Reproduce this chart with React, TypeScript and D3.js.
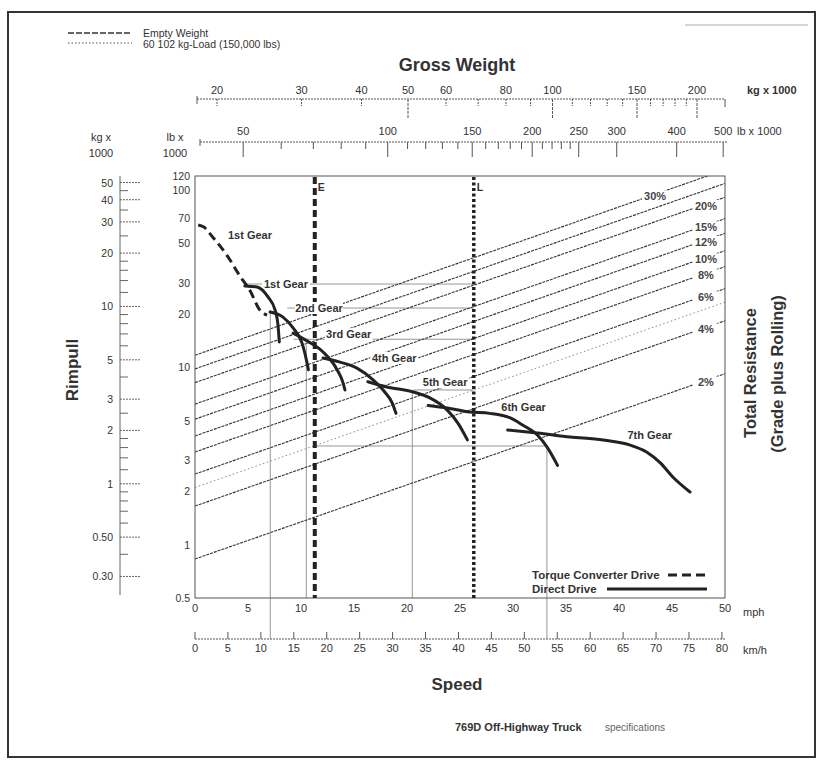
import * as d3 from "d3";

const W = 821;
const H = 763;
const FONT = "'Liberation Sans', Arial, Helvetica, sans-serif";

// speed axes
const mphTicks = [0, 5, 10, 15, 20, 25, 30, 35, 40, 45, 50];
const kmhTicks = [0, 5, 10, 15, 20, 25, 30, 35, 40, 45, 50, 55, 60, 65, 70, 75, 80];

// rimpull axes (x 1000)
const rimpullLbTicks = [120, 100, 70, 50, 30, 20, 10, 5, 3, 2, 1, 0.5];
const rimpullKgLabels = ["50", "40", "30", "20", "10", "5", "3", "2", "1", "0.50", "0.30"];
const rimpullKgMinor = [45, 35, 25, 18, 16, 14, 12, 9, 8, 7, 6, 4, 2.5, 1.8, 1.6, 1.4, 1.2, 0.9, 0.8, 0.7, 0.6, 0.4];

// gross weight axes (x 1000)
const grossKgLabels = [20, 30, 40, 50, 60, 80, 100, 150, 200];
const grossKgTicks = [20, 30, 40, 50, 60, 70, 80, 90, 100, 110, 120, 130, 140, 150, 160, 170, 180, 190, 200];
const grossKgLong = [50, 100, 150, 200];
const grossLbLabels = [50, 100, 150, 200, 250, 300, 400, 500];
const grossLbTicks = [50, 60, 70, 80, 90, 100, 110, 120, 130, 140, 150, 160, 170, 180, 190, 200, 210, 220, 230, 240, 250, 300, 400, 500];

// total resistance lines: rimpull (lb x 1000) at 0 mph and at 50 mph
const gradeLabels = ["30%", "", "20%", "15%", "12%", "10%", "8%", "6%", "", "4%", "2%"];
const gradeAt0 = [11.7, 9.8, 8.2, 6.2, 5.1, 4.1, 3.33, 2.5, 2.1, 1.65, 0.83];
const gradeAt50 = [130, 109, 91, 69, 57, 45.5, 37, 27.8, 23.3, 18.3, 9.2];
const gradeDotted = [false, false, false, false, false, false, false, false, true, false, false];

// rimpull curves: [mph, lb x 1000]
const gear1TC = [[0.3, 63.5], [0.8, 62], [1.7, 54], [3.0, 43], [4.2, 33], [5.2, 27], [6.1, 21.1], [6.8, 19.7]];
const gear1 = [[4.7, 28.8], [5.85, 28.4], [6.9, 24.9], [7.55, 21.1], [7.83, 17.3], [7.95, 13.9]];
const gear2 = [[7.08, 20.5], [8.3, 19.2], [9.25, 16.7], [10.1, 13.7], [10.57, 10.6], [10.7, 9.7]];
const gear3 = [[9.25, 15.6], [10.57, 14.1], [12.08, 12.2], [13.4, 9.7], [13.96, 8.2], [14.15, 7.45]];
const gear4 = [[12.08, 11.3], [13.68, 10.7], [15.28, 9.9], [16.8, 8.5], [17.9, 7.26], [18.6, 6.3], [18.96, 5.5]];
const gear5 = [[16.3, 8.3], [18.1, 7.75], [20.6, 7.26], [22.2, 6.7], [23.8, 5.74], [24.8, 4.85], [25.7, 3.9]];
const gear6 = [[22.0, 6.1], [23.8, 5.9], [25.9, 5.6], [27.8, 5.5], [29.7, 5.2], [30.9, 4.73], [32.3, 4.15], [33.2, 3.56], [34.2, 2.8]];
const gear7 = [[29.5, 4.43], [32.3, 4.26], [35.4, 4.05], [38.5, 3.89], [41.0, 3.65], [42.6, 3.33], [43.9, 2.89], [45.1, 2.4], [46.7, 1.98]];

// gear labels: text, mph, rimpull
const gearLabelText = ["1st Gear", "1st Gear", "2nd Gear", "3rd Gear", "4th Gear", "5th Gear", "6th Gear", "7th Gear"];
const gearLabelMph = [5.19, 8.58, 11.7, 14.5, 18.8, 23.6, 31.0, 42.9];
const gearLabelRim = [55.8, 29.5, 21.6, 15.4, 11.3, 8.26, 5.97, 4.15];

// example reading lines
const readRowRim = [29.5, 21.6, 14.4, 7.45, 3.6];
const readRowFrom = [4.7, 8.7, 9.3, 20.6, 11.3];
const readRowTo = [26.3, 26.3, 26.3, 26.3, 33.2];
const readColMph = [7.1, 10.5, 20.5, 33.2];
const readColTop = [21.1, 13.4, 7.45, 3.6];
const readColToKmh = [true, false, false, true];

const emptyMph = 11.3;
const loadedMph = 26.3;

export default function App() {
  const x = d3.scaleLinear().domain([0, 50]).range([195, 725]);
  const xKmh = d3.scaleLinear().domain([0, 50 * 1.609344]).range([195, 725]);
  const y = d3.scaleLog().domain([0.5, 120]).range([598, 176]);
  const yKg = (kg: number) => y(kg * 2.20462);
  const gw = d3.scaleLog().domain([20, 200]).range([217, 697]);
  const gwLb = (lb: number) => gw(lb / 2.20462);

  const curve = d3
    .line<number[]>()
    .x((d) => x(d[0]))
    .y((d) => y(d[1]))
    .curve(d3.curveMonotoneX);
  const straight = d3
    .line<number[]>()
    .x((d) => x(d[0]))
    .y((d) => y(d[1]));

  const gears = [gear1, gear2, gear3, gear4, gear5, gear6, gear7];
  const ink = "#222";
  const thin = "#8a8a8a";

  return (
    <svg
      width={W}
      height={H}
      style={{ position: "absolute", left: 0, top: 0, background: "#fff" }}
      fontFamily={FONT}
    >
      <defs>
        <clipPath id="plotClip">
          <rect x={195} y={176} width={530} height={422} />
        </clipPath>
      </defs>

      {/* page frame */}
      <rect x={8} y={12} width={807} height={745} fill="none" stroke="#333" strokeWidth={2} />
      <line x1={685} x2={808} y1={25} y2={25} stroke="#aaa" strokeWidth={1} />

      {/* top-left legend */}
      <line x1={68} x2={132} y1={33} y2={33} stroke="#333" strokeWidth={1.5} strokeDasharray="6,2" />
      <text x={143} y={33} fontSize={10.5} fill="#333" dominantBaseline="central">Empty Weight</text>
      <line x1={68} x2={132} y1={43} y2={43} stroke="#555" strokeWidth={1.2} strokeDasharray="1.5,2" />
      <text x={143} y={44} fontSize={10.5} fill="#333" dominantBaseline="central">60 102 kg-Load (150,000 lbs)</text>

      {/* gross weight */}
      <text x={457} y={65} fontSize={18} fontWeight="bold" fill="#333" textAnchor="middle" dominantBaseline="central">
        Gross Weight
      </text>
      <line x1={197} x2={725} y1={99} y2={99} stroke="#555" strokeWidth={1} strokeDasharray="2,1" />
      <line x1={197} x2={197} y1={96} y2={104} stroke="#555" />
      <line x1={725} x2={725} y1={99} y2={107} stroke="#555" />
      {grossKgTicks.map((t) => (
        <line key={"gk" + t} x1={gw(t)} x2={gw(t)} y1={99} y2={grossKgLong.includes(t) ? 118 : 106}
          stroke="#555" strokeWidth={1} strokeDasharray={grossKgLong.includes(t) ? "3,1" : "2,1"} />
      ))}
      {grossKgLabels.map((t) => (
        <text key={"gkl" + t} x={gw(t)} y={90} fontSize={11} fill="#333" textAnchor="middle" dominantBaseline="central">
          {t}
        </text>
      ))}
      <text x={747} y={90} fontSize={11} fontWeight="bold" fill="#333" dominantBaseline="central">kg x 1000</text>

      <line x1={200} x2={727} y1={142} y2={142} stroke="#555" strokeWidth={1} strokeDasharray="2,1" />
      <line x1={200} x2={200} y1={139} y2={146} stroke="#555" />
      {grossLbTicks.map((t) => (
        <line key={"gl" + t} x1={gwLb(t)} x2={gwLb(t)} y1={142} y2={grossLbLabels.includes(t) ? 157 : 149}
          stroke="#555" strokeWidth={1} />
      ))}
      {grossLbLabels.map((t) => (
        <text key={"gll" + t} x={gwLb(t)} y={131} fontSize={11} fill="#333" textAnchor="middle" dominantBaseline="central">
          {t}
        </text>
      ))}
      <text x={737} y={131} fontSize={11} fill="#333" dominantBaseline="central">lb x 1000</text>

      {/* rimpull axis headers */}
      <text x={101} y={137} fontSize={11} fill="#333" textAnchor="middle" dominantBaseline="central">kg x</text>
      <text x={101} y={153} fontSize={11} fill="#333" textAnchor="middle" dominantBaseline="central">1000</text>
      <text x={175} y={137} fontSize={11} fill="#333" textAnchor="middle" dominantBaseline="central">lb x</text>
      <text x={175} y={153} fontSize={11} fill="#333" textAnchor="middle" dominantBaseline="central">1000</text>

      {/* kg rimpull axis */}
      <line x1={120} x2={120} y1={176} y2={595} stroke="#666" strokeWidth={1} />
      {rimpullKgLabels.map((t) => (
        <g key={"rk" + t}>
          <line x1={120} x2={141} y1={yKg(+t)} y2={yKg(+t)} stroke="#666" strokeDasharray="2,1" />
          <text x={113} y={yKg(+t)} fontSize={10.5} fill="#333" textAnchor="end" dominantBaseline="central">{t}</text>
        </g>
      ))}
      {rimpullKgMinor.map((t) => (
        <line key={"rkm" + t} x1={120} x2={128} y1={yKg(t)} y2={yKg(t)} stroke="#666" />
      ))}
      <text transform="translate(72,370) rotate(-90)" fontSize={17} fontWeight="bold" fill="#333"
        textAnchor="middle" dominantBaseline="central">Rimpull</text>

      {/* lb rimpull labels */}
      {rimpullLbTicks.map((t) => (
        <text key={"rl" + t} x={190} y={y(t)} fontSize={10.5} fill="#333" textAnchor="end" dominantBaseline="central">
          {t}
        </text>
      ))}

      {/* reading lines */}
      {readRowRim.map((r, i) => (
        <line key={"rr" + i} x1={x(readRowFrom[i])} x2={x(readRowTo[i])} y1={y(r)} y2={y(r)}
          stroke={thin} strokeWidth={0.9} />
      ))}
      {readColMph.map((s, i) => (
        <line key={"rc" + i} x1={x(s)} x2={x(s)} y1={y(readColTop[i])} y2={readColToKmh[i] ? 639 : y(0.5)}
          stroke={thin} strokeWidth={0.9} />
      ))}

      {/* total resistance lines */}
      <g clipPath="url(#plotClip)">
        {gradeAt0.map((r0, i) => (
          <path key={"gr" + i} d={straight([[0, r0], [50, gradeAt50[i]]]) || ""} fill="none"
            stroke={gradeDotted[i] ? "#888" : "#333"} strokeWidth={gradeDotted[i] ? 1 : 1.1}
            strokeDasharray={gradeDotted[i] ? "1.5,2.5" : "3,1"} />
        ))}
      </g>
      {gradeLabels.map((lab, i) => {
        if (!lab) return null;
        const s = i === 0 ? 43.4 : 48.2;
        const r = gradeAt0[i] * Math.pow(gradeAt50[i] / gradeAt0[i], s / 50);
        const yy = y(r) + 2;
        return (
          <g key={"gl" + i}>
            <rect x={x(s) - 13} y={yy - 6} width={26} height={12} fill="#fff" />
            <text x={x(s)} y={yy} fontSize={11} fontWeight="bold" fill="#444" textAnchor="middle" dominantBaseline="central">
              {lab}
            </text>
          </g>
        );
      })}

      {/* plot frame */}
      <rect x={195} y={176} width={530} height={422} fill="none" stroke="#555" strokeWidth={1} />

      {/* empty / loaded weight lines */}
      <line x1={x(emptyMph)} x2={x(emptyMph)} y1={177} y2={598} stroke={ink} strokeWidth={4} strokeDasharray="7,4" />
      <text x={x(emptyMph) + 3} y={187} fontSize={10.5} fontWeight="bold" fill="#333" dominantBaseline="central">E</text>
      <line x1={x(loadedMph)} x2={x(loadedMph)} y1={177} y2={598} stroke={ink} strokeWidth={3.5} strokeDasharray="3,2.5" />
      <text x={x(loadedMph) + 3} y={187} fontSize={10.5} fontWeight="bold" fill="#333" dominantBaseline="central">L</text>

      {/* gear labels */}
      {gearLabelText.map((t, i) => (
        <g key={"gt" + i}>
          <rect x={x(gearLabelMph[i]) - 24} y={y(gearLabelRim[i]) - 6} width={48} height={12} fill="#fff" />
          <text x={x(gearLabelMph[i])} y={y(gearLabelRim[i])} fontSize={11} fontWeight="bold" fill="#333"
            textAnchor="middle" dominantBaseline="central">{t}</text>
        </g>
      ))}

      {/* rimpull curves */}
      <path d={curve(gear1TC) || ""} fill="none" stroke={ink} strokeWidth={3} strokeDasharray="9,5" />
      {gears.map((g, i) => (
        <path key={"gear" + i} d={curve(g) || ""} fill="none" stroke={ink} strokeWidth={3} strokeLinecap="round" />
      ))}

      {/* drive legend */}
      <text x={532} y={575} fontSize={11.5} fontWeight="bold" fill="#333" dominantBaseline="central">Torque Converter Drive</text>
      <line x1={668} x2={707} y1={575} y2={575} stroke={ink} strokeWidth={3} strokeDasharray="9,5" />
      <text x={532} y={589} fontSize={11.5} fontWeight="bold" fill="#333" dominantBaseline="central">Direct Drive</text>
      <line x1={607} x2={707} y1={589} y2={589} stroke={ink} strokeWidth={3} />

      {/* speed axes */}
      {mphTicks.map((t) => (
        <text key={"m" + t} x={x(t)} y={608} fontSize={11} fill="#333" textAnchor="middle" dominantBaseline="central">{t}</text>
      ))}
      <text x={743} y={612} fontSize={11} fill="#333" dominantBaseline="central">mph</text>
      <line x1={195} x2={725} y1={639} y2={639} stroke="#555" strokeDasharray="2,1" />
      {kmhTicks.map((t) => (
        <g key={"k" + t}>
          <line x1={xKmh(t)} x2={xKmh(t)} y1={632} y2={639} stroke="#555" />
          <text x={xKmh(t)} y={648} fontSize={11} fill="#333" textAnchor="middle" dominantBaseline="central">{t}</text>
        </g>
      ))}
      <text x={743} y={650} fontSize={11} fill="#333" dominantBaseline="central">km/h</text>
      <text x={457} y={684} fontSize={17} fontWeight="bold" fill="#333" textAnchor="middle" dominantBaseline="central">Speed</text>

      {/* right title */}
      <text transform="translate(750,373) rotate(-90)" fontSize={16.5} fontWeight="bold" fill="#333"
        textAnchor="middle" dominantBaseline="central">Total Resistance</text>
      <text transform="translate(777,374) rotate(-90)" fontSize={16.5} fontWeight="bold" fill="#333"
        textAnchor="middle" dominantBaseline="central">(Grade plus Rolling)</text>

      {/* footer */}
      <text x={455} y={727} fontSize={11} fontWeight="bold" fill="#333" dominantBaseline="central">769D Off-Highway Truck</text>
      <text x={605} y={727} fontSize={10} fill="#666" dominantBaseline="central">specifications</text>
    </svg>
  );
}
